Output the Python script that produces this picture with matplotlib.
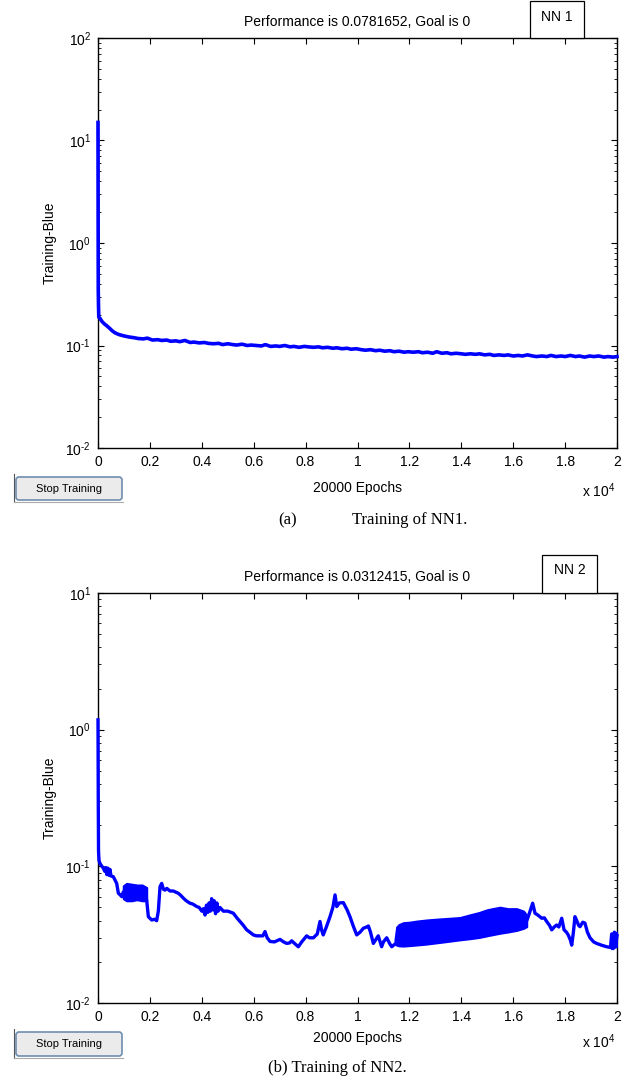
import numpy as np
import matplotlib
matplotlib.use('Agg')
import matplotlib.pyplot as plt
from matplotlib.patches import Rectangle, FancyBboxPatch
from matplotlib.lines import Line2D
from matplotlib.ticker import FixedLocator, FuncFormatter, LogLocator, NullFormatter

plt.rcParams['font.family'] = ['Liberation Sans', 'DejaVu Sans']
plt.rcParams['mathtext.fontset'] = 'custom'
plt.rcParams['mathtext.rm'] = 'Liberation Sans'
plt.rcParams['mathtext.it'] = 'Liberation Sans:italic'

# ---------------- data ----------------
x_ticks = [0, 2000, 4000, 6000, 8000, 10000, 12000, 14000, 16000, 18000, 20000]

# NN1 training performance
nn1_epochs = [0, 5, 10, 20, 30, 50, 77, 150, 250, 335, 450, 550, 655, 800,
              1000, 1200, 1400, 1550, 1750, 1900, 2100, 2300, 2450, 2650,
              2800, 3000, 3150, 3350, 3550, 3700, 3900, 4100, 4250, 4450,
              4650, 4800, 5000, 5200, 5350, 5550, 5750, 5900, 6100, 6300,
              6450, 6650, 6850, 7000, 7200, 7400, 7550, 7750, 7950, 8100,
              8300, 8500, 8650, 8850, 9050, 9200, 9400, 9600, 9750, 9950,
              10150, 10300, 10500, 10700, 10850, 11050, 11250, 11400, 11600,
              11800, 11950, 12150, 12350, 12500, 12700, 12900, 13050, 13250,
              13450, 13600, 13800, 14000, 14150, 14350, 14550, 14700, 14900,
              15100, 15250, 15450, 15650, 15800, 16000, 16200, 16350, 16550,
              16750, 16900, 17100, 17300, 17450, 17650, 17850, 18000, 18200,
              18400, 18550, 18750, 18950, 19100, 19300, 19500, 19650, 19850,
              20000]
nn1_perf = [15.0, 2.0, 0.35, 0.24, 0.19, 0.186, 0.184, 0.172, 0.162, 0.156,
            0.147, 0.139, 0.133, 0.128,
            0.124, 0.121, 0.119, 0.117, 0.116, 0.118, 0.113, 0.114, 0.112,
            0.113, 0.110, 0.111, 0.109, 0.112, 0.107, 0.108, 0.106, 0.107,
            0.105, 0.104, 0.105, 0.102, 0.104, 0.102, 0.101, 0.103, 0.100,
            0.101, 0.100, 0.099, 0.102, 0.098, 0.099, 0.098, 0.100, 0.097,
            0.098, 0.096, 0.098, 0.097, 0.096, 0.097, 0.095, 0.096, 0.094,
            0.095, 0.093, 0.094, 0.092, 0.093, 0.091, 0.090, 0.091, 0.089,
            0.090, 0.088, 0.089, 0.087, 0.088, 0.086, 0.087, 0.086, 0.087,
            0.085, 0.086, 0.084, 0.087, 0.084, 0.085, 0.083, 0.084, 0.083,
            0.082, 0.083, 0.082, 0.083, 0.081, 0.082, 0.080, 0.081, 0.080,
            0.081, 0.079, 0.080, 0.079, 0.081, 0.079, 0.078, 0.079, 0.078,
            0.080, 0.078, 0.079, 0.078, 0.080, 0.078, 0.079, 0.077, 0.079,
            0.078, 0.079, 0.077, 0.078, 0.077, 0.078]

# NN2 training performance
nn2_epochs = [0, 5, 10, 20, 40, 77, 150, 205, 260, 300, 340, 380, 420, 460,
              500, 590, 720, 785, 850, 915, 975, 1100, 1300, 1500, 1700,
              1875, 1940, 2070, 2180, 2260, 2325, 2390, 2455, 2520, 2580,
              2650, 2775, 2900, 3095, 3200, 3290, 3400, 3545, 3650, 3805,
              3900, 4000, 4060, 4125, 4180, 4230, 4280, 4330, 4380, 4430,
              4480, 4530, 4580, 4630, 4700, 4830, 5000, 5215, 5350, 5470,
              5600, 5730, 5850, 5985, 6100, 6240, 6350, 6435, 6520, 6630,
              6800, 7015, 7150, 7270, 7380, 7465, 7600, 7720, 7850, 8040,
              8150, 8300, 8450, 8555, 8620, 8680, 8800, 8940, 9050, 9135,
              9200, 9300, 9455, 9600, 9710, 9850, 9970, 10100, 10225, 10350,
              10420, 10500, 10610, 10700, 10800, 10930, 11000, 11125, 11250,
              11320, 11445, 12665, 13950, 14980, 15490, 16135, 16520, 16580,
              16750, 16840, 16950, 17100, 17200, 17290, 17400, 17485, 17580,
              17675, 17760, 17870, 17960, 18050, 18120, 18200, 18255, 18320,
              18380, 18450, 18520, 18575, 18680, 18765, 18860, 18960, 19100,
              19215, 19400, 19600, 19750, 19795, 19850, 19900, 19950, 20000]
nn2_perf = [1.18, 0.45, 0.30, 0.13, 0.11, 0.105, 0.100, 0.097, 0.092, 0.098,
            0.087, 0.097, 0.086, 0.095, 0.085, 0.084, 0.075, 0.0635, 0.062,
            0.060, 0.065, 0.065, 0.064, 0.065, 0.063, 0.0568, 0.0428, 0.0405,
            0.041, 0.040, 0.047, 0.071, 0.075, 0.068, 0.067, 0.069, 0.066,
            0.066, 0.0635, 0.061, 0.0585, 0.056, 0.0537, 0.053, 0.0508,
            0.050, 0.047, 0.049, 0.044, 0.052, 0.046, 0.054, 0.047, 0.058,
            0.048, 0.056, 0.045, 0.054, 0.047, 0.050, 0.047, 0.047, 0.0454,
            0.042, 0.0395, 0.037, 0.0343, 0.033, 0.0315, 0.031, 0.031, 0.031,
            0.0333, 0.030, 0.0282, 0.028, 0.0292, 0.028, 0.0273, 0.0275,
            0.0285, 0.027, 0.0258, 0.028, 0.031, 0.030, 0.030, 0.032, 0.0395,
            0.034, 0.0315, 0.036, 0.0428, 0.050, 0.0618, 0.0508, 0.054,
            0.0542, 0.048, 0.0428, 0.036, 0.0315, 0.033, 0.0352, 0.036,
            0.0366, 0.033, 0.0273, 0.029, 0.031, 0.0258, 0.028, 0.030, 0.027,
            0.0258, 0.027, 0.033, 0.035, 0.038, 0.041, 0.042, 0.040, 0.0428,
            0.0537, 0.0454, 0.044, 0.0417, 0.042, 0.0395, 0.037, 0.0343,
            0.036, 0.0372, 0.036, 0.0417, 0.0343, 0.033, 0.0315, 0.029,
            0.0265, 0.033, 0.0428, 0.040, 0.037, 0.0362, 0.039, 0.0384, 0.033,
            0.030, 0.028, 0.0273, 0.0265, 0.0258, 0.0255, 0.032, 0.025, 0.033,
            0.026, 0.0312]

# fast-oscillation bands in NN2 (lower / upper envelope)
nn2_band1_x = [975, 1100, 1300, 1500, 1700, 1875]
nn2_band1_lo = [0.058, 0.056, 0.056, 0.057, 0.056, 0.056]
nn2_band1_hi = [0.072, 0.075, 0.074, 0.073, 0.073, 0.070]

nn2_band2_x = [11445, 11510, 11600, 11765, 12000, 12300, 12665, 13000, 13400,
               13950, 14300, 14700, 14980, 15200, 15490, 15800, 16135, 16400,
               16520]
nn2_band2_lo = [0.027, 0.0265, 0.0262, 0.0261, 0.0263, 0.0266, 0.027, 0.0275,
                0.0281, 0.029, 0.0295, 0.0302, 0.031, 0.0316, 0.0324, 0.0331,
                0.034, 0.0352, 0.0362]
nn2_band2_hi = [0.029, 0.036, 0.0375, 0.0387, 0.039, 0.0398, 0.0405, 0.041,
                0.0415, 0.0422, 0.044, 0.046, 0.048, 0.049, 0.0502, 0.049,
                0.049, 0.047, 0.044]

nn2_band3_x = [19780, 20000]
nn2_band3_lo = [0.025, 0.026]
nn2_band3_hi = [0.032, 0.033]

titles = ['Performance is 0.0781652, Goal is 0', 'Performance is 0.0312415, Goal is 0']
box_labels = ['NN 1', 'NN 2']
captions = [('(a)', 'Training of NN1.'), ('(b) Training of NN2.', '')]

# ---------------- figure ----------------
W, H = 641, 1086
fig = plt.figure(figsize=(W / 100, H / 100), dpi=100)
inch = fig.dpi_scale_trans
BLUE = '#0000ff'


def to_in(x, y):
    return x / 100.0, (H - y) / 100.0


def make_axes(top, bottom, ymax):
    left, right = 98, 617
    ax = fig.add_axes([left / W, 1 - bottom / H, (right - left) / W, (bottom - top) / H])
    ax.set_yscale('log')
    ax.set_xlim(0, 20000)
    ax.set_ylim(1e-2, ymax)
    ax.xaxis.set_major_locator(FixedLocator(x_ticks))
    ax.xaxis.set_major_formatter(FuncFormatter(lambda v, p: '%g' % (v / 1e4)))
    ax.yaxis.set_major_locator(LogLocator(base=10, numticks=10))
    ax.yaxis.set_minor_locator(LogLocator(base=10, subs=np.arange(2, 10), numticks=10))
    ax.yaxis.set_minor_formatter(NullFormatter())
    # MATLAB style exponent with a plain hyphen
    ax.yaxis.set_major_formatter(
        FuncFormatter(lambda v, p: r'10$^{\text{%d}}$' % round(np.log10(v))))
    ax.tick_params(which='both', direction='in', top=True, right=True, colors='black')
    ax.tick_params(which='major', length=4, width=0.8, labelsize=10, pad=5)
    ax.tick_params(which='minor', length=2, width=0.6)
    for s in ax.spines.values():
        s.set_linewidth(1.0)
    return ax


def decorate(ax, top, bottom, title_y, box, box_text_y, xlab_y, exp_y, btn, cap_y, idx):
    cx = (98 + 617) / 2
    fig.text(*to_in(cx, title_y), titles[idx], transform=inch, ha='center', va='center', fontsize=10)
    bx0, by0, bx1, by1 = box
    fig.add_artist(Rectangle(to_in(bx0, by1), (bx1 - bx0) / 100, (by1 - by0) / 100,
                             transform=inch, fc='white', ec='black', lw=0.9))
    fig.text(*to_in((bx0 + bx1) / 2, box_text_y), box_labels[idx], transform=inch,
             ha='center', va='center', fontsize=10)
    fig.text(*to_in(50, (top + bottom) / 2), 'Training-Blue', transform=inch, rotation=90,
             ha='center', va='center', fontsize=10)
    fig.text(*to_in(cx, xlab_y), '20000 Epochs', transform=inch, ha='center', va='center', fontsize=10)
    fig.text(*to_in(599, exp_y), r'x 10$^{4}$', transform=inch, ha='center', va='center', fontsize=10)
    # "Stop Training" button
    y0, y1 = btn
    fig.add_artist(FancyBboxPatch(to_in(16, y1), 1.06, (y1 - y0) / 100,
                                  boxstyle='round,pad=0,rounding_size=0.03', transform=inch,
                                  fc='#ebebeb', ec='#6f8db0', lw=1.2))
    fig.add_artist(Line2D([0.145, 0.145], [(H - y0 + 3) / 100, (H - y1 - 2) / 100],
                          transform=inch, color='#555555', lw=0.8))
    fig.add_artist(Line2D([0.145, 1.23], [(H - y1 - 2) / 100] * 2,
                          transform=inch, color='#aaaaaa', lw=0.8))
    fig.text(*to_in(69, (y0 + y1) / 2), 'Stop Training', transform=inch, ha='center', va='center',
             fontsize=8)
    # caption
    a, b = captions[idx]
    if b:
        fig.text(*to_in(278, cap_y), a, transform=inch, ha='left', va='center', fontsize=12,
                 family='Liberation Serif')
        fig.text(*to_in(352, cap_y), b, transform=inch, ha='left', va='center', fontsize=12,
                 family='Liberation Serif')
    else:
        fig.text(*to_in(268, cap_y), a, transform=inch, ha='left', va='center', fontsize=12,
                 family='Liberation Serif')


# ---- panel (a)
ax1 = make_axes(38, 448, 1e2)
ax1.plot(nn1_epochs, nn1_perf, color=BLUE, lw=2.6, zorder=3, clip_on=False)
decorate(ax1, 38, 448, 22, (530, 1, 584, 38), 17, 488, 491, (477, 500), 520, 0)

# ---- panel (b)
ax2 = make_axes(593, 1003, 1e1)
ax2.plot(nn2_epochs, nn2_perf, color=BLUE, lw=2.4, zorder=3, clip_on=False)
for bx, lo, hi in [(nn2_band1_x, nn2_band1_lo, nn2_band1_hi),
                   (nn2_band2_x, nn2_band2_lo, nn2_band2_hi),
                   (nn2_band3_x, nn2_band3_lo, nn2_band3_hi)]:
    ax2.fill_between(bx, lo, hi, color=BLUE, lw=1.5, edgecolor=BLUE, zorder=3)
decorate(ax2, 593, 1003, 577, (542, 555, 597, 593), 570, 1038, 1042, (1032, 1056), 1068, 1)

fig.savefig('out.png', dpi=100)
